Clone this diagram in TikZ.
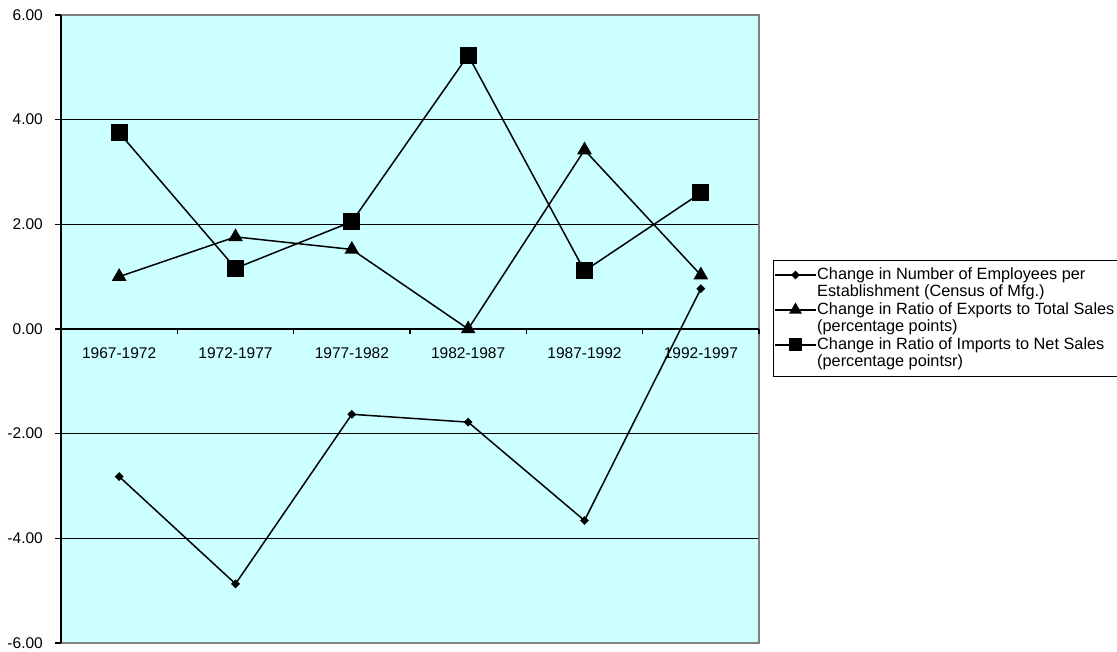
\documentclass[tikz,border=0pt]{standalone}
\usepackage{fontspec}
\setmainfont{Liberation Sans}
\usetikzlibrary{shapes.geometric}
\definecolor{plotbg}{HTML}{CCFFFF}
\definecolor{framegray}{HTML}{808080}
\tikzset{
  gridline/.style={black, line width=1.1bp},
  axisline/.style={black, line width=1.3bp},
  series/.style={black, line width=1.5bp},
  dmark/.style={diamond, fill=black, inner sep=0pt, minimum size=9bp},
  tmark/.style={regular polygon, regular polygon sides=3, fill=black, inner sep=0pt, minimum size=17bp},
  smark/.style={rectangle, fill=black, inner sep=0pt, minimum size=17bp},
  lsmark/.style={rectangle, fill=black, inner sep=0pt, minimum size=13bp},
  ticklabel/.style={inner sep=0pt, font=\fontsize{15.5bp}{17bp}\selectfont},
  legendtext/.style={inner sep=0pt, align=left, font=\fontsize{16.3bp}{17.5bp}\selectfont},
}
\begin{document}
\begin{tikzpicture}[x=1bp,y=1bp]
\useasboundingbox (0,0) rectangle (1117,652);
\fill[plotbg] (61,9) rectangle (759,637);
\begin{scope}[shift={(61,323)}, x=116.333bp, y=52.333bp]
  \foreach \v in {4,2,-2,-4} \draw[gridline] (0,\v) -- (6,\v);
  \draw[framegray, line width=2bp] (0,-6) -- (6,-6) -- (6,6) -- (0,6);
  \draw[axisline] (0,-6) -- (0,6);
  \foreach \v/\t in {6/6.00,4/4.00,2/2.00,0/0.00,-2/-2.00,-4/-4.00,-6/-6.00} {
    \draw[axisline] (0,\v) -- ++(-6bp,0);
    \node[ticklabel, anchor=east] (yl\t) at ([xshift=-18bp]0,\v) {\t};
  }
  \draw[axisline] (0,0) -- (6,0);
  \foreach \i in {1,...,6} \draw[axisline] (\i,0) -- ++(0,-5bp);
  \foreach \i/\t in {1/1967-1972,2/1972-1977,3/1977-1982,4/1982-1987,5/1987-1992,6/1992-1997}
    \node[ticklabel] (xl\i) at ([yshift=-24bp]\i-0.5,0) {\t};
  % data
  \foreach \i/\v in {1/-2.82,2/-4.87,3/-1.63,4/-1.78,5/-3.66,6/0.77}
    \coordinate (d\i) at (\i-0.5,\v);
  \foreach \i/\v in {1/1.00,2/1.76,3/1.52,4/0.00,5/3.42,6/1.03}
    \coordinate (t\i) at (\i-0.5,\v);
  \foreach \i/\v in {1/3.75,2/1.16,3/2.05,4/5.23,5/1.11,6/2.60}
    \coordinate (s\i) at (\i-0.5,\v);
  \draw[series] (d1) -- (d2) -- (d3) -- (d4) -- (d5) -- (d6);
  \foreach \i in {1,...,6} \node[dmark] (dm\i) at (d\i) {};
  \draw[series] (t1) -- (t2) -- (t3) -- (t4) -- (t5) -- (t6);
  \foreach \i in {1,...,6} \node[tmark] (tm\i) at (t\i) {};
  \draw[series] (s1) -- (s2) -- (s3) -- (s4) -- (s5) -- (s6);
  \foreach \i in {1,...,6} \node[smark] (sm\i) at (s\i) {};
\end{scope}
% legend
\draw[black, line width=1bp] (773,275) rectangle (1118,391);
\coordinate (la1) at (775,377); \coordinate (lb1) at (816,377);
\coordinate (la2) at (775,342); \coordinate (lb2) at (816,342);
\coordinate (la3) at (775,307); \coordinate (lb3) at (816,307);
\draw[series] (la1) -- (lb1);
\node[dmark] (lm1) at (795.5,377) {};
\draw[series] (la2) -- (lb2);
\node[tmark, minimum size=15bp] (lm2) at (795.5,342) {};
\draw[series] (la3) -- (lb3);
\node[lsmark] (lm3) at (795.5,307) {};
\node[legendtext, anchor=west] (lt1) at (817,368.25) {Change in Number of Employees per\\Establishment (Census of Mfg.)};
\node[legendtext, anchor=west] (lt2) at (817,333.25) {Change in Ratio of Exports to Total Sales\\(percentage points)};
\node[legendtext, anchor=west] (lt3) at (817,298.25) {Change in Ratio of Imports to Net Sales\\(percentage pointsr)};
\end{tikzpicture}
\end{document}
